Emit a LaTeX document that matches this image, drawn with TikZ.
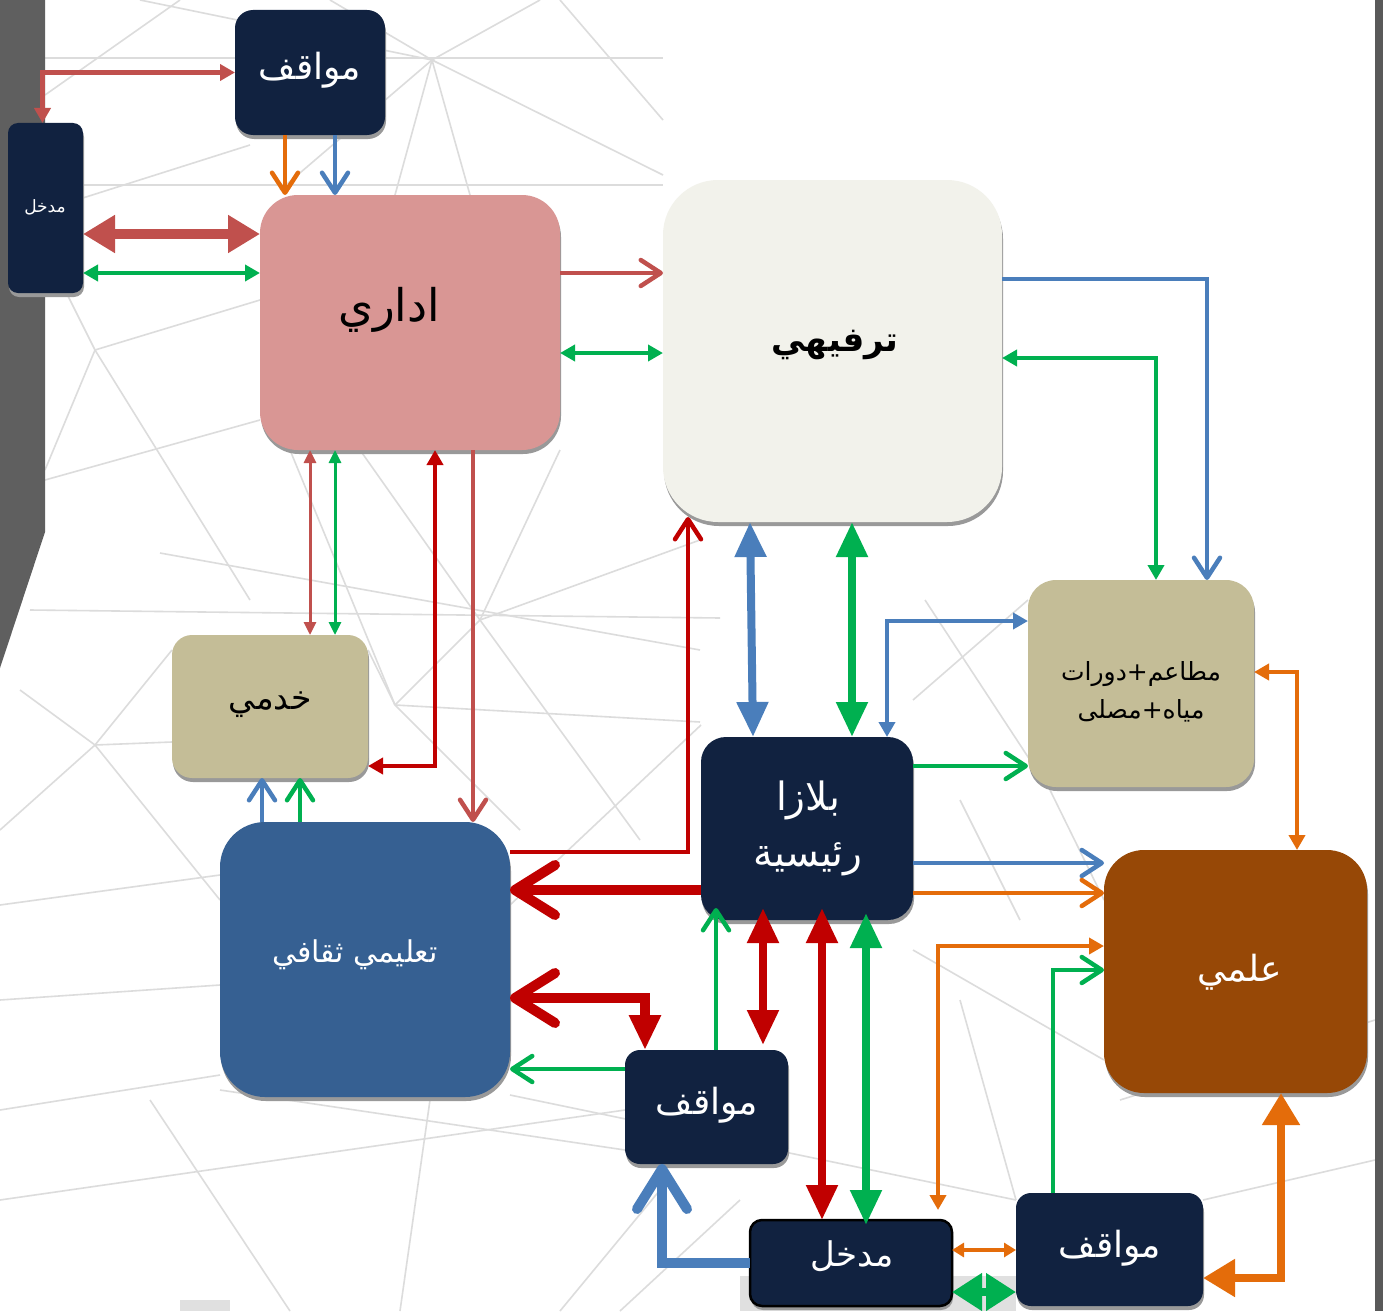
\documentclass[tikz,border=0pt]{standalone}
\usepackage{fontspec}
\newfontfamily\arabicfont[Script=Arabic]{DejaVu Sans}
\TeXXeTstate=1
\usetikzlibrary{arrows.meta,shadows}

\definecolor{navy}{HTML}{112240}
\definecolor{rose}{HTML}{D99694}
\definecolor{ivory}{HTML}{F2F2EB}
\definecolor{khaki}{HTML}{C4BD97}
\definecolor{steel}{HTML}{366092}
\definecolor{rust}{HTML}{974806}
\definecolor{brick}{HTML}{C0504D}
\definecolor{crimson}{HTML}{C00000}
\definecolor{leaf}{HTML}{00B050}
\definecolor{sky}{HTML}{4A7EBB}
\definecolor{amber}{HTML}{E46C0A}
\definecolor{web}{HTML}{DCDCDC}
\definecolor{wall}{HTML}{5F5F5F}

\tikzset{
  ts/.tip={Triangle[length=15pt,width=16pt]},
  tt/.tip={Triangle[length=13pt,width=12pt]},
  tq/.tip={Triangle[length=12pt,width=14pt]},
  tm/.tip={Triangle[length=35pt,width=30pt]},
  tb/.tip={Triangle[length=32pt,width=36pt]},
  cs/.tip={Straight Barb[length=20pt,width=26pt,round]},
  cb/.tip={Straight Barb[length=40pt,width=50pt,round]},
  box/.style={rounded corners=#1, inner sep=0pt, outer sep=0pt,
    drop shadow={shadow xshift=1pt, shadow yshift=-4pt, fill=black!40, opacity=1}},
  lbl/.style={inner sep=0pt, align=center},
  thin/.style={line width=3pt},
  mid/.style={line width=4.5pt},
  heavy/.style={line width=8pt},
  bold/.style={line width=10pt},
}

\begin{document}
\begin{tikzpicture}[x=1pt,y=-1pt]
\useasboundingbox (0,0) rectangle (1383,1311);
\fill[white] (0,0) rectangle (1383,1311);

% background web of thin lines
\begin{scope}[draw=web, line width=1.6pt]
\draw (45,58) -- (663,58);
\draw (45,185) -- (663,185);
\draw (140,0) -- (432,60) -- (330,0);
\draw (432,60) -- (540,0);
\draw (432,60) -- (663,175);
\draw (432,60) -- (470,195);
\draw (432,60) -- (395,195);
\draw (432,60) -- (280,190);
\draw (45,210) -- (250,145);
\draw (45,95) -- (180,0);
\draw (95,350) -- (260,300);
\draw (95,350) -- (45,250);
\draw (95,350) -- (250,600);
\draw (95,350) -- (45,470);
\draw (45,480) -- (260,420);
\draw (95,745) -- (172,650);
\draw (95,745) -- (0,830);
\draw (95,745) -- (220,900);
\draw (95,745) -- (172,742);
\draw (20,690) -- (95,745);
\draw (160,553) -- (700,650);
\draw (30,610) -- (720,618);
\draw (480,620) -- (395,705);
\draw (480,620) -- (700,540);
\draw (480,620) -- (560,450);
\draw (480,620) -- (640,840);
\draw (480,620) -- (360,450);
\draw (395,705) -- (368,650);
\draw (395,705) -- (700,722);
\draw (395,705) -- (520,830);
\draw (290,450) -- (395,705);
\draw (0,905) -- (220,875);
\draw (0,1000) -- (220,985);
\draw (0,1110) -- (220,1075);
\draw (150,1100) -- (290,1311);
\draw (220,1090) -- (625,1150);
\draw (510,1095) -- (1016,1200);
\draw (0,1200) -- (625,1110);
\draw (400,1311) -- (430,1100);
\draw (560,1311) -- (660,1190);
\draw (510,905) -- (701,725);
\draw (913,700) -- (1028,600);
\draw (925,600) -- (1030,760);
\draw (913,950) -- (1104,1060);
\draw (960,1000) -- (1016,1200);
\draw (1203,1200) -- (1375,1160);
\draw (1120,1100) -- (1375,1020);
\draw (1050,790) -- (1104,900);
\draw (663,120) -- (560,0);
\draw (620,1311) -- (740,1200);
\draw (1020,920) -- (960,800);
\end{scope}

% side walls and floor patches
\fill[wall] (0,0) -- (45,0) -- (45,532) -- (0,668) -- cycle;
\fill[black!65] (1375,0) rectangle (1383,1311);
\fill[black!12] (740,1276) rectangle (1016,1311);
\fill[black!12] (180,1300) rectangle (230,1311);

% blocks
\node[box=18pt, fill=navy, minimum width=150pt, minimum height=125pt] (mwqTop) at (310,72.5) {};
\node[box=10pt, fill=navy, minimum width=75pt, minimum height=170pt] (entL) at (45.5,208) {};
\node[box=38pt, fill=rose, minimum width=300pt, minimum height=255pt] (adm) at (410,322.5) {};
\node[box=55pt, fill=ivory, minimum width=339pt, minimum height=342pt] (rec) at (832.5,351) {};
\node[box=20pt, fill=khaki, minimum width=196pt, minimum height=143pt] (srv) at (270,706.5) {};
\node[box=28pt, fill=khaki, minimum width=226pt, minimum height=207pt] (food) at (1141,683.5) {};
\node[box=25pt, fill=navy, minimum width=212pt, minimum height=183pt] (plaza) at (807,828.5) {};
\node[box=45pt, fill=steel, minimum width=290pt, minimum height=275pt] (edu) at (365,959.5) {};
\node[box=40pt, fill=rust, minimum width=263pt, minimum height=243pt] (sci) at (1235.5,971.5) {};
\node[box=15pt, fill=navy, minimum width=163pt, minimum height=114pt] (mwqMid) at (706.5,1107) {};
\node[box=12pt, fill=navy, draw=black, line width=2.5pt, minimum width=202pt, minimum height=86pt] (entB) at (851,1263) {};
\node[box=15pt, fill=navy, minimum width=187pt, minimum height=113pt] (mwqBR) at (1109.5,1249.5) {};

% block captions
\node[lbl, text=white, font=\arabicfont\fontsize{36}{40}\selectfont] (mwqTopT) at (310,70) {\beginR مواقف\endR};
\node[lbl, text=white, font=\arabicfont\fontsize{17}{20}\selectfont] (entLT) at (45,207) {\beginR مدخل\endR};
\node[lbl, text=black, font=\arabicfont\fontsize{45}{50}\selectfont] (admT) at (389,310) {\beginR اداري\endR};
\node[lbl, text=black, font=\arabicfont\bfseries\fontsize{34}{40}\selectfont] (recT) at (835,345) {\beginR ترفيهي\endR};
\node[lbl, text=black, font=\arabicfont\fontsize{33}{36}\selectfont] (srvT) at (270,705) {\beginR خدمي\endR};
\node[lbl, text=black, font=\arabicfont\fontsize{25}{38}\selectfont] (foodT) at (1141,692) {\beginR مطاعم+دورات\endR\\\beginR مياه+مصلى\endR};
\node[lbl, text=white, font=\arabicfont\fontsize{39}{56}\selectfont] (plazaT) at (808,828) {\beginR بلازا\endR\\\beginR رئيسية\endR};
\node[lbl, text=white, font=\arabicfont\fontsize{30}{34}\selectfont] (eduT) at (355,955) {\beginR تعليمي ثقافي\endR};
\node[lbl, text=white, font=\arabicfont\fontsize{36}{40}\selectfont] (sciT) at (1240,972) {\beginR علمي\endR};
\node[lbl, text=white, font=\arabicfont\fontsize{36}{40}\selectfont] (mwqMidT) at (707,1105) {\beginR مواقف\endR};
\node[lbl, text=white, font=\arabicfont\fontsize{34}{38}\selectfont] (entBT) at (852,1256) {\beginR مدخل\endR};
\node[lbl, text=white, font=\arabicfont\fontsize{36}{40}\selectfont] (mwqBRT) at (1110,1248) {\beginR مواقف\endR};

% links around the administration block
\draw[brick, mid, ts-ts] ([xshift=-3pt]entL.north) |- (mwqTop.west);
\draw[amber, mid, -cs] (285,0 |- mwqTop.south) -- (285,0 |- adm.north);
\draw[sky, mid, -cs] (335,0 |- mwqTop.south) -- (335,0 |- adm.north);
\draw[brick, bold, tb-tb] (entL.east |- 0,234) -- (adm.west |- 0,234);
\draw[leaf, mid, ts-ts] (entL.east |- 0,273) -- (adm.west |- 0,273);
\draw[brick, mid, -cs] (adm.east |- 0,273) -- (rec.west |- 0,273);
\draw[leaf, mid, ts-ts] (adm.east |- 0,353) -- (rec.west |- 0,353);
\draw[brick, thin, tt-tt] (310,0 |- adm.south) -- (310,0 |- srv.north);
\draw[leaf, thin, tt-tt] (335,0 |- adm.south) -- (335,0 |- srv.north);
\draw[crimson, mid, ts-ts] (srv.east |- 0,766) -| (435,0 |- adm.south);
\draw[brick, mid, -cs] (473,0 |- adm.south) -- (473,0 |- edu.north);
\draw[sky, mid, -cs] (262,0 |- edu.north) -- (262,0 |- srv.south);
\draw[leaf, mid, -cs] (300,0 |- edu.north) -- (300,0 |- srv.south);

% links around the education block
\draw[crimson, mid, -cs, shorten >=-5pt] (edu.east |- 0,852) -| (688,0 |- rec.south);
\draw[crimson, bold, -cb] (plaza.west |- 0,890) -- (edu.east |- 0,890);
\draw[crimson, bold, cb-tm] (edu.east |- 0,998) -| (645,0 |- mwqMid.north);
\draw[leaf, mid, -cs] (mwqMid.west |- 0,1069) -- (edu.east |- 0,1069);

% links around the plaza
\draw[leaf, mid, -cs, shorten >=-12pt] (716,0 |- mwqMid.north) -- (716,0 |- plaza.south);
\draw[crimson, heavy, tm-tm, shorten <=-12pt, shorten >=5pt] (763,0 |- plaza.south) -- (763,0 |- mwqMid.north);
\draw[crimson, heavy, tm-tm, shorten <=-12pt] (822,0 |- plaza.south) -- (822,0 |- entB.north);
\draw[leaf, heavy, tm-tm, shorten <=-7pt, shorten >=-5pt] (866,0 |- plaza.south) -- (866,0 |- entB.north);
\draw[sky, bold, -cb] (entB.west |- 0,1263) -| (662,0 |- mwqMid.south);
\draw[sky, heavy, tm-tm] (750,0 |- rec.south) -- (753,0 |- plaza.north);
\draw[leaf, heavy, tm-tm] (852,0 |- rec.south) -- (852,0 |- plaza.north);

% links on the right side
\draw[sky, mid, -cs] (rec.east |- 0,279) -| (1207,0 |- food.north);
\draw[leaf, mid, ts-ts] (1156,0 |- food.north) |- (rec.east |- 0,358);
\draw[sky, mid, ts-ts] (food.west |- 0,621) -| (887,0 |- plaza.north);
\draw[leaf, mid, -cs] (plaza.east |- 0,766) -- (food.west |- 0,766);
\draw[sky, mid, -cs] (plaza.east |- 0,863) -- (sci.west |- 0,863);
\draw[amber, mid, -cs] (plaza.east |- 0,893) -- (sci.west |- 0,893);
\draw[amber, mid, ts-ts] (food.east |- 0,672) -| (1297,0 |- sci.north);
\draw[amber, mid, ts-ts, shorten >=10pt] (sci.west |- 0,946) -| (938,0 |- entB.north);
\draw[leaf, mid, -cs] (1053,0 |- mwqBR.north) |- (sci.west |- 0,970);
\draw[amber, heavy, tb-tb] (1281,0 |- sci.south) |- (mwqBR.east |- 0,1278);
\draw[amber, mid, tq-tq] (entB.east |- 0,1250) -- (mwqBR.west |- 0,1250);
\draw[leaf, heavy, {Triangle[length=30pt,width=36pt]}-{Triangle[length=30pt,width=36pt]}] (entB.east |- 0,1292) -- (mwqBR.west |- 0,1292);
\end{tikzpicture}
\end{document}
